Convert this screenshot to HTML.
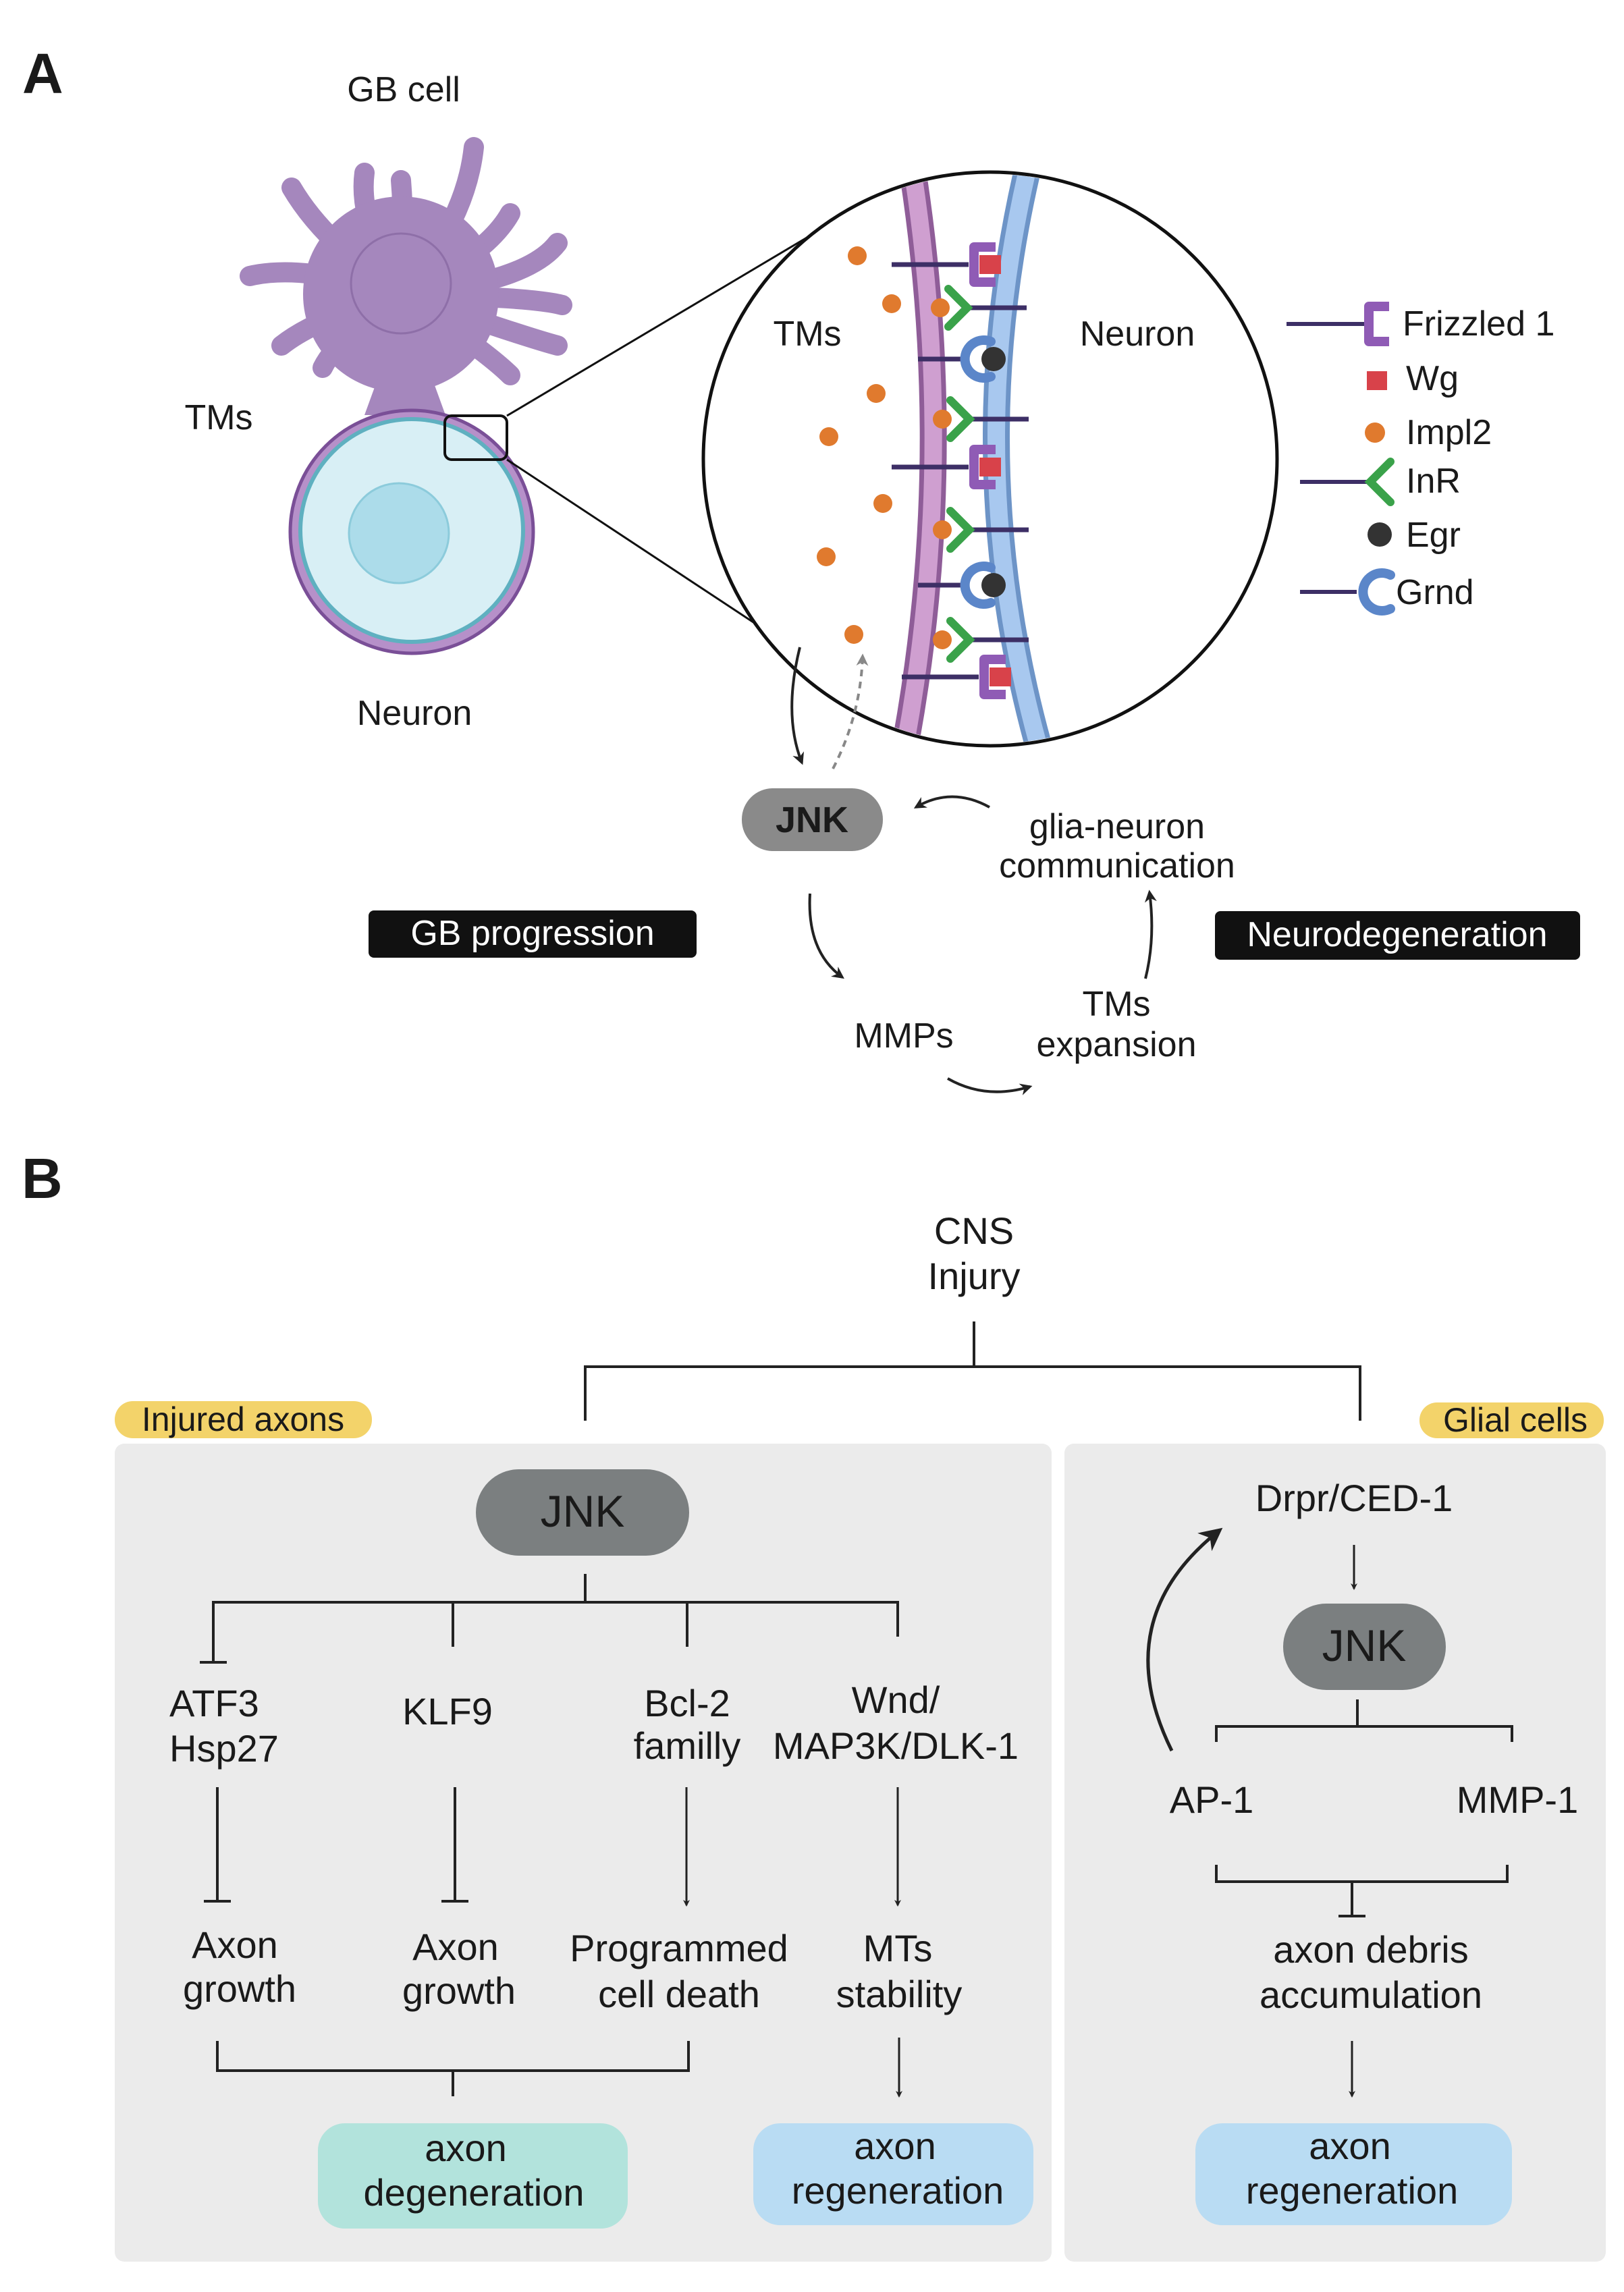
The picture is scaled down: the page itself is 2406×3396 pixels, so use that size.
<!DOCTYPE html>
<html><head><meta charset="utf-8"><style>
body{margin:0;background:#fff}
svg{display:block}
text{font-family:"Liberation Sans",sans-serif;fill:#1a1a1a}
</style></head><body>
<svg width="2406" height="3396" viewBox="0 0 2406 3396" xmlns="http://www.w3.org/2000/svg">
<defs>
<marker id="ah" markerWidth="10" markerHeight="10" refX="8" refY="5" orient="auto" markerUnits="userSpaceOnUse" viewBox="0 0 10 10"><path d="M0,0 L10,5 L0,10 L3,5z" fill="#222"/></marker>
<marker id="ahs" viewBox="0 0 10 10" refX="8" refY="5" markerWidth="18" markerHeight="18" orient="auto" markerUnits="userSpaceOnUse"><path d="M0,0 L10,5 L0,10 L3,5z" fill="#222"/></marker>
<marker id="ahg" viewBox="0 0 10 10" refX="8" refY="5" markerWidth="18" markerHeight="18" orient="auto" markerUnits="userSpaceOnUse"><path d="M0,0 L10,5 L0,10 L3,5z" fill="#888"/></marker>
<marker id="ahb" viewBox="0 0 10 10" refX="8" refY="5" markerWidth="34" markerHeight="34" orient="auto" markerUnits="userSpaceOnUse"><path d="M0,0 L10,5 L0,10 L3,5z" fill="#222"/></marker>
<g id="fz"><line x1="-114" y1="0" x2="0" y2="0" stroke="#3d2f66" stroke-width="7"/><path d="M40,-26 H8 V26 H40" fill="none" stroke="#8f5bb5" stroke-width="14" stroke-linejoin="round"/><rect x="16" y="-14" width="32" height="28" fill="#d8424a"/></g>
<g id="inr"><line x1="0" y1="0" x2="88" y2="0" stroke="#3d2f66" stroke-width="7"/><path d="M-28,-28 L0,0 L-28,28" fill="none" stroke="#3aa24a" stroke-width="12" stroke-linecap="round"/><circle cx="-40" cy="0" r="14" fill="#e07a2e"/></g>
<g id="gr"><line x1="-98" y1="0" x2="-28" y2="0" stroke="#3d2f66" stroke-width="7"/><path d="M10,-26 A28,28 0 1 0 10,26" fill="none" stroke="#5b86c9" stroke-width="14" stroke-linecap="round"/><circle cx="14" cy="0" r="18" fill="#333"/></g>
</defs>

<!-- PANEL A -->
<text x="33" y="138" font-size="84" font-weight="bold">A</text>
<text x="598" y="150" font-size="52" text-anchor="middle">GB cell</text>

<!-- GB cell tentacles -->
<g stroke="#a587bd" stroke-width="30" stroke-linecap="round" fill="none">
<path d="M594,436 Q480,360 432,278"/><path d="M594,436 Q530,330 540,256"/><path d="M594,436 Q600,340 594,267"/><path d="M594,436 Q690,330 702,218"/>
<path d="M594,436 Q720,380 756,316"/><path d="M594,436 Q780,420 826,360"/><path d="M594,436 Q790,440 833,452"/><path d="M594,436 Q780,500 826,512"/>
<path d="M594,436 Q720,520 756,556"/><path d="M594,436 Q450,390 370,409"/><path d="M594,436 Q470,470 417,512"/><path d="M594,436 Q500,500 478,545"/>
</g>
<circle cx="594" cy="436" r="145" fill="#a587bd"/>
<path d="M560,560 L640,560 L660,615 L540,615 Z" fill="#a587bd"/>
<circle cx="594" cy="420" r="74" fill="none" stroke="#8e6fa8" stroke-width="3"/>
<!-- neuron -->
<circle cx="610" cy="788" r="180" fill="#b690c9" stroke="#7a4f97" stroke-width="5"/>
<circle cx="610" cy="786" r="165" fill="#d8eff5" stroke="#5fb0c0" stroke-width="6"/>
<circle cx="591" cy="790" r="74" fill="#acdcea" stroke="#8ccbdb" stroke-width="3"/>
<text x="324" y="636" font-size="52" text-anchor="middle">TMs</text>
<text x="614" y="1074" font-size="52" text-anchor="middle">Neuron</text>
<rect x="659" y="616" width="92" height="65" rx="10" fill="none" stroke="#111" stroke-width="4"/>
<line x1="751" y1="616" x2="1219" y2="338" stroke="#111" stroke-width="3"/>
<line x1="751" y1="681" x2="1304" y2="1046" stroke="#111" stroke-width="3"/>

<!-- zoom circle -->
<circle cx="1467" cy="680" r="425" fill="#fff" stroke="#111" stroke-width="5"/>
<clipPath id="cc"><circle cx="1467" cy="680" r="422"/></clipPath>
<g clip-path="url(#cc)">
<path d="M1350,240 Q1420,680 1340,1110" fill="none" stroke="#8f5d98" stroke-width="40"/>
<path d="M1350,240 Q1420,680 1340,1110" fill="none" stroke="#cf9fd0" stroke-width="26"/>
<path d="M1525,240 Q1420,680 1540,1110" fill="none" stroke="#6d94c7" stroke-width="40"/>
<path d="M1525,240 Q1420,680 1540,1110" fill="none" stroke="#a8c8ef" stroke-width="26"/>
<use href="#fz" x="1435" y="392"/>
<use href="#inr" x="1433" y="456"/>
<use href="#gr" x="1458" y="532"/>
<use href="#inr" x="1436" y="621"/>
<use href="#fz" x="1435" y="692"/>
<use href="#inr" x="1436" y="785"/>
<use href="#gr" x="1458" y="867"/>
<use href="#inr" x="1436" y="948"/>
<use href="#fz" x="1450" y="1003"/>
<g fill="#e07a2e"><circle cx="1270" cy="379" r="14"/><circle cx="1321" cy="450" r="14"/><circle cx="1298" cy="583" r="14"/><circle cx="1228" cy="647" r="14"/><circle cx="1308" cy="746" r="14"/><circle cx="1224" cy="825" r="14"/><circle cx="1265" cy="940" r="14"/></g>
</g>
<text x="1196" y="512" font-size="52" text-anchor="middle">TMs</text>
<text x="1685" y="512" font-size="52" text-anchor="middle">Neuron</text>

<!-- legend -->
<line x1="1906" y1="480" x2="2021" y2="480" stroke="#3d2f66" stroke-width="6"/>
<path d="M2058,454 H2028 V506 H2058" fill="none" stroke="#8f5bb5" stroke-width="14" stroke-linejoin="round"/>
<text x="2078" y="497" font-size="52">Frizzled 1</text>
<rect x="2025" y="550" width="30" height="28" fill="#d8424a"/>
<text x="2083" y="578" font-size="52">Wg</text>
<circle cx="2037" cy="641" r="15" fill="#e07a2e"/>
<text x="2083" y="658" font-size="52">Impl2</text>
<line x1="1926" y1="714" x2="2030" y2="714" stroke="#3d2f66" stroke-width="6"/>
<path d="M2060,684 L2030,714 L2060,744" fill="none" stroke="#3aa24a" stroke-width="12" stroke-linecap="round"/>
<text x="2083" y="730" font-size="52">InR</text>
<circle cx="2044" cy="792" r="18" fill="#333"/>
<text x="2083" y="810" font-size="52">Egr</text>
<line x1="1926" y1="877" x2="2010" y2="877" stroke="#3d2f66" stroke-width="6"/>
<path d="M2060,852 A28,28 0 1 0 2060,902" fill="none" stroke="#5b86c9" stroke-width="14" stroke-linecap="round"/>
<text x="2068" y="895" font-size="52">Grnd</text>

<!-- cycle -->
<path d="M1185,959 Q1160,1060 1188,1130" fill="none" stroke="#222" stroke-width="4" marker-end="url(#ahs)"/>
<path d="M1234,1139 Q1275,1060 1278,972" fill="none" stroke="#888" stroke-width="4" stroke-dasharray="10,8" marker-end="url(#ahg)"/>
<rect x="1099" y="1168" width="209" height="93" rx="46" fill="#8a8a8a"/>
<text x="1203" y="1233" font-size="54" font-weight="bold" text-anchor="middle">JNK</text>
<path d="M1466,1196 Q1410,1165 1357,1196" fill="none" stroke="#222" stroke-width="4" marker-end="url(#ahs)"/>
<text x="1655" y="1242" font-size="52" text-anchor="middle">glia-neuron</text>
<text x="1655" y="1300" font-size="52" text-anchor="middle">communication</text>
<rect x="546" y="1349" width="486" height="70" rx="8" fill="#111"/>
<text x="789" y="1400" font-size="52" text-anchor="middle" style="fill:#fff">GB progression</text>
<rect x="1800" y="1350" width="541" height="72" rx="8" fill="#111"/>
<text x="2070" y="1402" font-size="52" text-anchor="middle" style="fill:#fff">Neurodegeneration</text>
<path d="M1200,1324 Q1195,1410 1248,1448" fill="none" stroke="#222" stroke-width="4" marker-end="url(#ahs)"/>
<text x="1339" y="1552" font-size="52" text-anchor="middle">MMPs</text>
<text x="1654" y="1505" font-size="52" text-anchor="middle">TMs</text>
<text x="1654" y="1565" font-size="52" text-anchor="middle">expansion</text>
<path d="M1404,1598 Q1460,1630 1526,1610" fill="none" stroke="#222" stroke-width="4" marker-end="url(#ahs)"/>
<path d="M1697,1450 Q1712,1390 1703,1322" fill="none" stroke="#222" stroke-width="4" marker-end="url(#ahs)"/>

<!-- PANEL B -->
<text x="32" y="1775" font-size="84" font-weight="bold">B</text>
<text x="1443" y="1843" font-size="56" text-anchor="middle">CNS</text>
<text x="1443" y="1910" font-size="56" text-anchor="middle">Injury</text>
<path d="M1443,1958 V2025 M867,2105 V2025 H2015 V2105" fill="none" stroke="#222" stroke-width="4"/>
<rect x="170" y="2139" width="1388" height="1212" rx="14" fill="#ebebeb"/>
<rect x="1577" y="2139" width="802" height="1212" rx="14" fill="#ebebeb"/>
<rect x="170" y="2076" width="381" height="55" rx="27" fill="#f3d36a"/>
<text x="360" y="2120" font-size="50" text-anchor="middle">Injured axons</text>
<rect x="2103" y="2078" width="273" height="53" rx="26" fill="#f3d36a"/>
<text x="2245" y="2121" font-size="50" text-anchor="middle">Glial cells</text>

<rect x="705" y="2177" width="316" height="128" rx="64" fill="#7b7f80"/>
<text x="863" y="2262" font-size="66" text-anchor="middle">JNK</text>
<g fill="none" stroke="#222" stroke-width="4">
<path d="M867,2332 V2374 M316,2463 V2374 H1330 V2425 M671,2374 V2440 M1018,2374 V2440"/>
<path d="M296,2463 H336"/>
<path d="M322,2648 V2817 M302,2817 H342"/>
<path d="M674,2648 V2817 M654,2817 H694"/>
<path d="M322,3024 V3068 H1020 V3024 M671,3068 V3106"/>
</g>
<g stroke="#222" stroke-width="3">
<line x1="1017" y1="2648" x2="1017" y2="2823" marker-end="url(#ah)"/>
<line x1="1330" y1="2648" x2="1330" y2="2823" marker-end="url(#ah)"/>
<line x1="1332" y1="3019" x2="1332" y2="3106" marker-end="url(#ah)"/>
<line x1="2006" y1="2289" x2="2006" y2="2354" marker-end="url(#ah)"/>
<line x1="2003" y1="3024" x2="2003" y2="3106" marker-end="url(#ah)"/>
</g>
<g font-size="56">
<text x="251" y="2543">ATF3</text>
<text x="251" y="2610">Hsp27</text>
<text x="663" y="2555" text-anchor="middle">KLF9</text>
<text x="1018" y="2543" text-anchor="middle">Bcl-2</text>
<text x="1018" y="2606" text-anchor="middle">familly</text>
<text x="1327" y="2538" text-anchor="middle">Wnd/</text>
<text x="1327" y="2606" text-anchor="middle">MAP3K/DLK-1</text>
<text x="348" y="2901" text-anchor="middle">Axon</text>
<text x="355" y="2966" text-anchor="middle">growth</text>
<text x="675" y="2904" text-anchor="middle">Axon</text>
<text x="680" y="2969" text-anchor="middle">growth</text>
<text x="1006" y="2906" text-anchor="middle">Programmed</text>
<text x="1006" y="2974" text-anchor="middle">cell death</text>
<text x="1330" y="2906" text-anchor="middle">MTs</text>
<text x="1332" y="2974" text-anchor="middle">stability</text>
</g>
<rect x="471" y="3146" width="459" height="156" rx="40" fill="#b2e3dc"/>
<text x="690" y="3202" font-size="56" text-anchor="middle">axon</text>
<text x="702" y="3268" font-size="56" text-anchor="middle">degeneration</text>
<rect x="1116" y="3146" width="415" height="151" rx="40" fill="#b9dcf3"/>
<text x="1326" y="3199" font-size="56" text-anchor="middle">axon</text>
<text x="1330" y="3265" font-size="56" text-anchor="middle">regeneration</text>

<!-- right -->
<text x="2006" y="2239" font-size="56" text-anchor="middle">Drpr/CED-1</text>
<rect x="1901" y="2376" width="241" height="128" rx="64" fill="#7b7f80"/>
<text x="2021" y="2461" font-size="66" text-anchor="middle">JNK</text>
<g fill="none" stroke="#222" stroke-width="4">
<path d="M2011,2518 V2558 M1802,2581 V2558 H2240 V2581"/>
<path d="M1802,2763 V2788 H2233 V2763 M2003,2788 V2839 M1983,2839 H2023"/>
</g>
<text x="1795" y="2686" font-size="56" text-anchor="middle">AP-1</text>
<text x="2248" y="2686" font-size="56" text-anchor="middle">MMP-1</text>
<text x="2031" y="2908" font-size="56" text-anchor="middle">axon debris</text>
<text x="2031" y="2975" font-size="56" text-anchor="middle">accumulation</text>
<path d="M1736,2594 Q1640,2400 1806,2268" fill="none" stroke="#222" stroke-width="5" marker-end="url(#ahb)"/>
<rect x="1771" y="3146" width="469" height="151" rx="40" fill="#b9dcf3"/>
<text x="2000" y="3199" font-size="56" text-anchor="middle">axon</text>
<text x="2003" y="3265" font-size="56" text-anchor="middle">regeneration</text>
</svg>
</body></html>
